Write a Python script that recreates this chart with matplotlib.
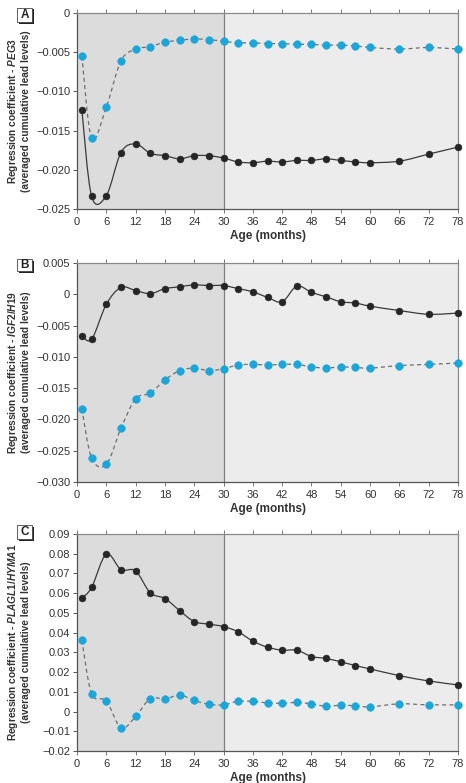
import matplotlib
matplotlib.use("Agg")
import matplotlib.pyplot as plt
from matplotlib.path import Path
from matplotlib.patches import PathPatch, Rectangle
from matplotlib import font_manager
import numpy as np

# ---------------- data ----------------
ages = [1, 3, 6, 9, 12, 15, 18, 21, 24, 27, 30, 33, 36, 39, 42, 45, 48, 51, 54, 57, 60, 66, 72, 78]

peg3_black = [-0.0124, -0.0234, -0.0233, -0.0178, -0.0167, -0.0179, -0.0182, -0.0186, -0.0182, -0.0182,
              -0.0185, -0.0190, -0.0191, -0.0189, -0.0190, -0.0188, -0.0188, -0.0186, -0.0188, -0.0190,
              -0.0191, -0.0189, -0.0180, -0.0171]
peg3_blue = [-0.0055, -0.0160, -0.0120, -0.0061, -0.0046, -0.0043, -0.0037, -0.0035, -0.0033, -0.0034,
             -0.0036, -0.0038, -0.0038, -0.0039, -0.0039, -0.0040, -0.0040, -0.0041, -0.0041, -0.0042,
             -0.0044, -0.0046, -0.0044, -0.0046]

igf2_black = [-0.0066, -0.0072, -0.0016, 0.0011, 0.0006, 0.0001, 0.0009, 0.0012, 0.0015, 0.0014,
              0.0014, 0.0009, 0.0004, -0.0005, -0.0012, 0.0013, 0.0003, -0.0004, -0.0012, -0.0014,
              -0.0019, -0.0026, -0.0032, -0.0030]
igf2_blue = [-0.0183, -0.0262, -0.0272, -0.0214, -0.0167, -0.0158, -0.0137, -0.0122, -0.0118, -0.0122,
             -0.0119, -0.0113, -0.0112, -0.0113, -0.0112, -0.0112, -0.0116, -0.0118, -0.0116, -0.0117,
             -0.0118, -0.0114, -0.0112, -0.0110]

plagl1_black = [0.0575, 0.0629, 0.0798, 0.0720, 0.0713, 0.0602, 0.0573, 0.0512, 0.0456, 0.0443,
                0.0431, 0.0404, 0.0357, 0.0326, 0.0311, 0.0311, 0.0279, 0.0269, 0.0252, 0.0233,
                0.0216, 0.0182, 0.0155, 0.0135]
plagl1_blue = [0.0362, 0.0090, 0.0054, -0.0083, -0.0025, 0.0066, 0.0063, 0.0084, 0.0056, 0.0037,
               0.0034, 0.0052, 0.0051, 0.0044, 0.0042, 0.0046, 0.0039, 0.0027, 0.0032, 0.0029,
               0.0024, 0.0039, 0.0034, 0.0034]

x_ticks = [0, 6, 12, 18, 24, 30, 36, 42, 48, 54, 60, 66, 72, 78]

a_yticks = [-0.025, -0.020, -0.015, -0.010, -0.005, 0]
a_ylabels = ["\u22120.025", "\u22120.020", "\u22120.015", "\u22120.010", "\u22120.005", "0"]
b_yticks = [-0.030, -0.025, -0.020, -0.015, -0.010, -0.005, 0, 0.005]
b_ylabels = ["\u22120.030", "\u22120.025", "\u22120.020", "\u22120.015", "\u22120.010", "\u22120.005", "0", "0.005"]
c_yticks = [-0.02, -0.01, 0, 0.01, 0.02, 0.03, 0.04, 0.05, 0.06, 0.07, 0.08, 0.09]
c_ylabels = ["\u22120.02", "\u22120.01", "0", "0.01", "0.02", "0.03", "0.04", "0.05", "0.06", "0.07", "0.08", "0.09"]

genes = ["PEG3", "IGF2/H19", "PLAGL1/HYMA1"]
panel_letters = ["A", "B", "C"]
split_age = 30

# ---------------- style ----------------
avail = {f.name for f in font_manager.fontManager.ttflist}
main_font = "Liberation Sans Narrow" if "Liberation Sans Narrow" in avail else "Liberation Sans"
plt.rcParams["font.family"] = [main_font, "DejaVu Sans"]
plt.rcParams["mathtext.fontset"] = "custom"
plt.rcParams["mathtext.it"] = main_font + ":italic:bold"
plt.rcParams["mathtext.rm"] = main_font + ":bold"
plt.rcParams["mathtext.bf"] = main_font + ":bold"

BLUE = "#1ba6d9"
BLACK = "#262626"
DARK_BG = "#dcdcdc"
LIGHT_BG = "#ececec"
FRAME = "#8a8a8a"


def smooth_path(xs, ys, k=1.0 / 6.0):
    xs = np.asarray(xs, float)
    ys = np.asarray(ys, float)
    pts = np.column_stack([xs, ys])
    n = len(pts)
    verts = [pts[0]]
    codes = [Path.MOVETO]
    for i in range(n - 1):
        p0 = pts[i - 1] if i > 0 else pts[i]
        p1 = pts[i]
        p2 = pts[i + 1]
        p3 = pts[i + 2] if i + 2 < n else pts[i + 1]
        c1 = p1 + (p2 - p0) * k
        c2 = p2 - (p3 - p1) * k
        verts += [c1, c2, p2]
        codes += [Path.CURVE4] * 3
    return Path(verts, codes)


fig = plt.figure(figsize=(4.66, 7.83), dpi=100)

W, H = 466.0, 783.0
boxes = [(13, 209), (263, 482), (534, 751)]
letter_boxes = [(8, 22), (259, 271), (525, 539)]
series = [(peg3_black, peg3_blue, a_yticks, a_ylabels),
          (igf2_black, igf2_blue, b_yticks, b_ylabels),
          (plagl1_black, plagl1_blue, c_yticks, c_ylabels)]

for idx, ((top, bot), (blk, blu, yt, yl)) in enumerate(zip(boxes, series)):
    ax = fig.add_axes([77 / W, 1 - bot / H, 381 / W, (bot - top) / H])
    ymin, ymax = yt[0], yt[-1]
    ax.set_xlim(0, 78)
    ax.set_ylim(ymin, ymax)
    ax.axvspan(0, split_age, color=DARK_BG, zorder=0, lw=0)
    ax.axvspan(split_age, 78, color=LIGHT_BG, zorder=0, lw=0)
    ax.axvline(split_age, color="#808080", lw=0.9, zorder=1)

    ax.add_patch(PathPatch(smooth_path(ages, blu), fill=False, edgecolor="#6e6e6e",
                           lw=0.9, linestyle=(0, (3.2, 2.6)), zorder=2))
    ax.add_patch(PathPatch(smooth_path(ages, blk), fill=False, edgecolor="#3a3a3a",
                           lw=0.9, zorder=2))
    ax.plot(ages, blu, linestyle="none", marker="o", ms=5.6, mfc=BLUE, mec=BLUE, mew=0.3, zorder=3,
            clip_on=False)
    ax.plot(ages, blk, linestyle="none", marker="o", ms=5.0, mfc=BLACK, mec=BLACK, mew=0.3, zorder=3,
            clip_on=False)

    ax.set_xticks(x_ticks)
    ax.set_xticklabels([str(t) for t in x_ticks])
    ax.set_yticks(yt)
    ax.set_yticklabels(yl)
    ax.tick_params(axis="x", which="both", top=True, bottom=True, direction="out", length=3,
                   width=0.7, color="#777777", labelsize=8, labelcolor="#333333", pad=3)
    ax.tick_params(axis="y", direction="out", length=3, width=0.7, color="#555555",
                   labelsize=8, labelcolor="#333333", pad=2)
    for s in ["top", "right"]:
        ax.spines[s].set_color(FRAME)
        ax.spines[s].set_linewidth(0.9)
    ax.spines["left"].set_color("#555555")
    ax.spines["bottom"].set_color("#555555")
    ax.spines["left"].set_linewidth(0.9)
    ax.spines["bottom"].set_linewidth(0.9)

    ax.set_xlabel("Age (months)", fontsize=8.5, fontweight="bold", color="#333333", labelpad=2)
    ax.set_ylabel("Regression coefficient - $\\mathit{" + genes[idx] + "}$\n(averaged cumulative lead levels)",
                  fontsize=7.3, fontweight="bold", color="#333333", linespacing=1.05)
    ax.yaxis.set_label_coords(-0.122, 0.5)

    # panel letter box
    lt, lb = letter_boxes[idx]
    bx0, bx1 = 17, 32
    fig.patches.append(Rectangle(((bx0 + 1.5) / W, 1 - (lb + 1.5) / H), (bx1 - bx0) / W, (lb - lt) / H,
                                 transform=fig.transFigure, facecolor="#222222", edgecolor="none", zorder=5))
    fig.patches.append(Rectangle((bx0 / W, 1 - lb / H), (bx1 - bx0) / W, (lb - lt) / H,
                                 transform=fig.transFigure, facecolor="white", edgecolor="#444444",
                                 lw=0.6, zorder=6))
    fig.text((bx0 + bx1) / 2 / W, 1 - (lt + lb) / 2 / H, panel_letters[idx], ha="center", va="center",
             fontsize=8.5, fontweight="bold", color="#222222", zorder=7)

fig.savefig("out.png", dpi=100, facecolor="white")
